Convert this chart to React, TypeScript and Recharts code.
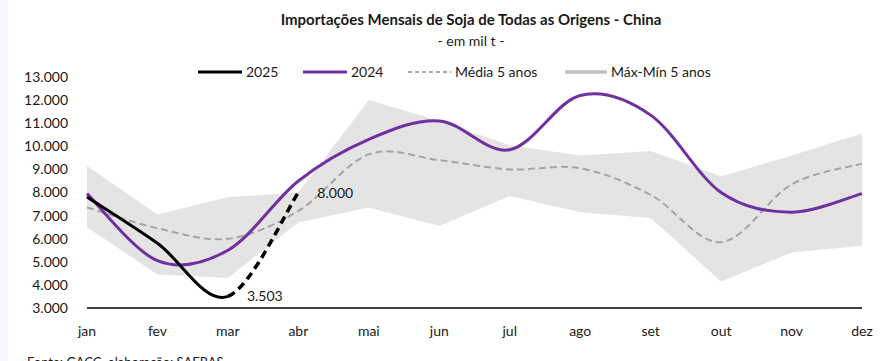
import React from 'react';
import { ComposedChart, Line, Area, XAxis, YAxis } from 'recharts';

const months = ['jan', 'fev', 'mar', 'abr', 'mai', 'jun', 'jul', 'ago', 'set', 'out', 'nov', 'dez'];
const y2025: (number | null)[] = [7800, 5800, 3503, 8000, null, null, null, null, null, null, null, null];
const y2024 = [7950, 5050, 5500, 8500, 10300, 11100, 9850, 12200, 11350, 8000, 7150, 7950];
const media5 = [7350, 6450, 6000, 7200, 9650, 9400, 9000, 9050, 7900, 5850, 8350, 9250];
const max5 = [9150, 7050, 7800, 8000, 12000, 11100, 10050, 9600, 9800, 8700, 9600, 10550];
const min5 = [6500, 4450, 4300, 6700, 7350, 6550, 7850, 7150, 6900, 4150, 5400, 5700];
const yTicks = [3000, 4000, 5000, 6000, 7000, 8000, 9000, 10000, 11000, 12000, 13000];
const labelIdx = [2, 3];

const data = months.map((m, i) => ({
  month: m,
  y2025: y2025[i],
  y2024: y2024[i],
  media: media5[i],
  band: [min5[i], max5[i]],
}));

const fmt = (v: number) => String(Math.round(v)).replace(/\B(?=(\d{3})+(?!\d))/g, '.');

// Excel-like smoothed line (Catmull-Rom style Bezier), optionally drawing only a range of segments
const makeExcelCurve = (from = 0, to = Infinity) => (context: any) => {
  let pts: number[][] = [];
  let line = NaN;
  return {
    areaStart() { line = 0; },
    areaEnd() { line = NaN; },
    lineStart() { pts = []; },
    point(x: number, y: number) { pts.push([+x, +y]); },
    lineEnd() {
      const n = pts.length;
      if (n > 0) {
        const s = Math.max(0, from);
        const e = Math.min(n - 1, to);
        if (s <= e) {
          const p = pts[s];
          if (line) context.lineTo(p[0], p[1]); else context.moveTo(p[0], p[1]);
          for (let i = s; i < e; i++) {
            const p0 = pts[Math.max(i - 1, 0)];
            const p1 = pts[i];
            const p2 = pts[i + 1];
            const p3 = pts[Math.min(i + 2, n - 1)];
            context.bezierCurveTo(
              p1[0] + (p2[0] - p0[0]) / 6, p1[1] + (p2[1] - p0[1]) / 6,
              p2[0] - (p3[0] - p1[0]) / 6, p2[1] - (p3[1] - p1[1]) / 6,
              p2[0], p2[1]
            );
          }
        }
      }
      if (line || (line !== 0 && n === 1)) context.closePath();
      line = 1 - line;
    },
  };
};

const smooth = makeExcelCurve();
const solid2025 = makeExcelCurve(0, 2);
const dashed2025 = makeExcelCurve(2, 3);

const FONT = 'Lato, "Open Sans", sans-serif';

const renderLabel = (props: any) => {
  const { x, y, value, index } = props;
  if (!labelIdx.includes(index) || value == null) return null;
  return (
    <text key={`lbl-${index}`} x={x + 19} y={y} dy="0.36em" fontFamily={FONT} fontSize={14} fill="#1a1a1a">
      {fmt(value)}
    </text>
  );
};

const legendItems = [
  { label: '2025', color: '#000000', width: 3, dash: undefined as string | undefined, x1: 198, x2: 242, tx: 246 },
  { label: '2024', color: '#7030a0', width: 3, dash: undefined, x1: 303, x2: 347, tx: 351 },
  { label: 'Média 5 anos', color: '#a6a6a6', width: 2, dash: '4 3', x1: 408, x2: 451, tx: 455 },
  { label: 'Máx-Mín 5 anos', color: '#c0c0c0', width: 3.5, dash: undefined, x1: 565, x2: 607, tx: 611 },
];

export default function App() {
  return (
    <div style={{ position: 'absolute', left: 0, top: 0, width: 880, height: 361, background: '#ffffff', overflow: 'hidden' }}>
      <div style={{ position: 'absolute', left: 0, top: 0, width: 8, height: 361, background: '#f4f7fb' }} />
      <div style={{ position: 'absolute', left: 0, top: 10, width: 942, textAlign: 'center', fontFamily: FONT, fontWeight: 700, fontSize: 15, color: '#1a1a1a' }}>
        Importações Mensais de Soja de Todas as Origens - China
      </div>
      <div style={{ position: 'absolute', left: 0, top: 32, width: 942, textAlign: 'center', fontFamily: FONT, fontSize: 14, color: '#1a1a1a' }}>
        - em mil t -
      </div>
      <svg style={{ position: 'absolute', left: 0, top: 62 }} width={880} height={20}>
        {legendItems.map((it) => (
          <g key={it.label}>
            <line x1={it.x1} x2={it.x2} y1={10} y2={10} stroke={it.color} strokeWidth={it.width} strokeDasharray={it.dash} />
            <text x={it.tx} y={10} dy="0.36em" fontFamily={FONT} fontSize={14} fill="#1a1a1a">{it.label}</text>
          </g>
        ))}
      </svg>
      <div style={{ position: 'absolute', left: 0, top: 0 }}>
        <ComposedChart width={880} height={361} data={data} margin={{ top: 77, right: 18, bottom: 0, left: 0 }}>
          <XAxis
            dataKey="month"
            scale="point"
            padding={{ left: 0, right: 0 }}
            height={53}
            axisLine={{ stroke: '#000000', strokeWidth: 1.5 }}
            tickLine={false}
            tickSize={0}
            tickMargin={18}
            interval={0}
            tick={{ fontFamily: FONT, fontSize: 14, fill: '#1a1a1a' }}
          />
          <YAxis
            width={87}
            domain={[3000, 13000]}
            ticks={yTicks}
            interval={0}
            axisLine={false}
            tickLine={false}
            tickSize={0}
            tickMargin={19}
            tickFormatter={fmt}
            tick={{ fontFamily: FONT, fontSize: 14, fill: '#1a1a1a' }}
          />
          <Area dataKey="band" type="linear" stroke="none" fill="#e4e4e4" fillOpacity={1} isAnimationActive={false} dot={false} activeDot={false} />
          <Line dataKey="media" type={smooth as any} stroke="#a6a6a6" strokeWidth={2} strokeDasharray="7 4" dot={false} activeDot={false} isAnimationActive={false} />
          <Line dataKey="y2024" type={smooth as any} stroke="#7030a0" strokeWidth={3} dot={false} activeDot={false} isAnimationActive={false} />
          <Line dataKey="y2025" type={solid2025 as any} stroke="#000000" strokeWidth={3} dot={false} activeDot={false} isAnimationActive={false} />
          <Line dataKey="y2025" type={dashed2025 as any} stroke="#000000" strokeWidth={3.5} strokeDasharray="8 5" dot={false} activeDot={false} isAnimationActive={false} label={renderLabel} />
        </ComposedChart>
      </div>
      <div style={{ position: 'absolute', left: 27, top: 354, fontFamily: FONT, fontSize: 13, color: '#1a1a1a', whiteSpace: 'nowrap' }}>
        Fonte: GACC, elaboração: SAFRAS
      </div>
    </div>
  );
}
